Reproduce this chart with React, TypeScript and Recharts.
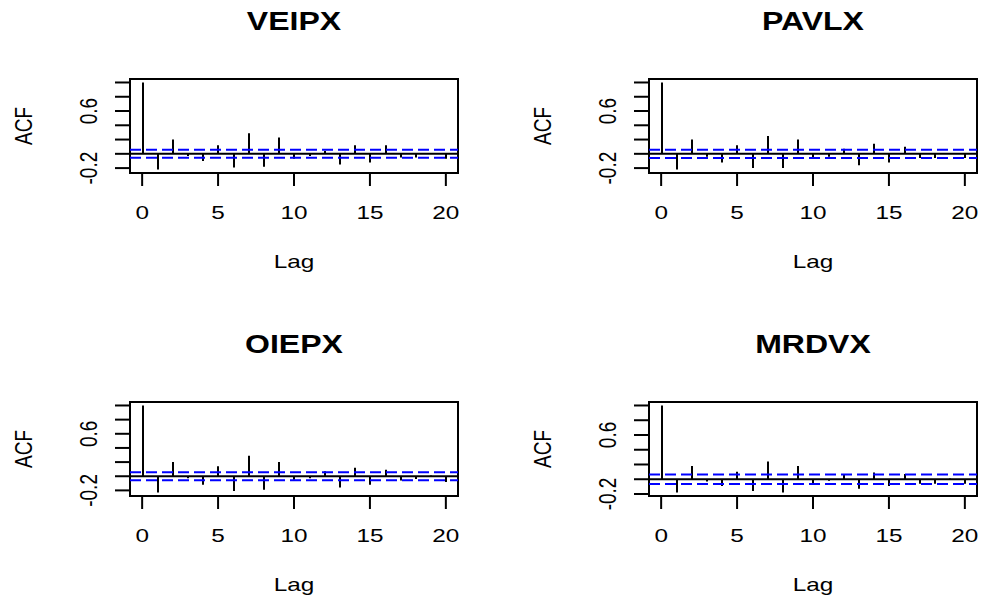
import React from 'react';
import { ComposedChart, Bar, XAxis, YAxis, ReferenceLine, ReferenceArea } from 'recharts';

// lags 0..20 and the ACF values
const lags = [0, 1, 2, 3, 4, 5, 6, 7, 8, 9, 10, 11, 12, 13, 14, 15, 16, 17, 18, 19, 20];
const veipx = [1.0, -0.22, 0.2, -0.03, -0.1, 0.12, -0.19, 0.29, -0.18, 0.23, -0.07, -0.03, 0.04, -0.15, 0.12, -0.12, 0.12, -0.05, -0.05, 0.01, -0.07];
const pavlx = [1.0, -0.22, 0.2, -0.04, -0.12, 0.12, -0.2, 0.25, -0.2, 0.2, -0.07, -0.04, 0.07, -0.16, 0.14, -0.12, 0.1, -0.06, -0.06, 0.01, -0.06];
const oiepx = [1.0, -0.23, 0.2, -0.03, -0.12, 0.14, -0.21, 0.29, -0.19, 0.2, -0.05, -0.03, 0.07, -0.16, 0.12, -0.12, 0.09, -0.06, -0.04, 0.01, -0.08];
const mrdvx = [1.0, -0.18, 0.18, -0.03, -0.09, 0.1, -0.16, 0.24, -0.18, 0.18, -0.05, -0.02, 0.06, -0.13, 0.09, -0.09, 0.07, -0.06, -0.06, 0.01, -0.06];
const titles = ['VEIPX', 'PAVLX', 'OIEPX', 'MRDVX'];
const ciBounds = [0.056, 0.058, 0.056, 0.064];
const xTicks = [0, 5, 10, 15, 20];
const yTicks = [-0.2, 0, 0.2, 0.4, 0.6, 0.8, 1.0];
const yLabels = [-0.2, 0.6];

const FONT = '"Liberation Sans", Arial, sans-serif';
const STRETCH = 1.28; // the picture is stretched horizontally
const BOX_W = 328;
const BOX_H = 94;

const boxes = [
  { left: 130, top: 79 },
  { left: 649, top: 79 },
  { left: 130, top: 402 },
  { left: 649, top: 402 },
];

const Stem = (props: any) => {
  const { x, y, width, height } = props;
  if (x == null || y == null) return null;
  const cx = Math.round(x + width / 2);
  return <line x1={cx} x2={cx} y1={y} y2={y + height} stroke="#000" strokeWidth={2} />;
};

const XTick = (props: any) => {
  const { x, y, payload } = props;
  return (
    <text transform={`translate(${x},${y}) scale(${STRETCH},1)`} x={0} y={0} dy={13.6}
      textAnchor="middle" fontSize={19} fontFamily={FONT} fill="#000">
      {payload.value}
    </text>
  );
};

const YTick = (props: any) => {
  const { x, y, payload } = props;
  const v = Math.round(payload.value * 10) / 10;
  if (!yLabels.includes(v)) return null;
  return (
    <text transform={`translate(${x},${y}) scale(${STRETCH},1) rotate(-90)`} x={0} y={0}
      textAnchor="middle" fontSize={19} fontFamily={FONT} fill="#000">
      {v.toFixed(1)}
    </text>
  );
};

type PanelProps = { title: string; values: number[]; ci: number; left: number; top: number };

const AcfPanel = ({ title, values, ci, left, top }: PanelProps) => {
  const data = lags.map((lag, i) => ({ lag, acf: values[i] }));
  const lo = Math.min(...values, -ci);
  const hi = Math.max(...values, ci);
  const pad = (hi - lo) * 0.04;
  const yDomain = [lo - pad, hi + pad];
  const xDomain = [-0.8, 20.8];
  const cx = left + BOX_W / 2;
  const textBase: React.CSSProperties = {
    position: 'absolute', fontFamily: FONT, color: '#000', lineHeight: 1, whiteSpace: 'nowrap',
  };
  return (
    <>
      <div style={{ position: 'absolute', left: left - 130, top: top - 80 }}>
        <ComposedChart width={BOX_W + 140} height={300} data={data}
          margin={{ top: 80, left: 70, right: 10, bottom: 86 }}>
          <XAxis dataKey="lag" type="number" domain={xDomain} allowDataOverflow ticks={xTicks}
            interval={0} height={40} axisLine={false} tickSize={13} tickMargin={19}
            tickLine={{ stroke: '#000', strokeWidth: 2 }} tick={<XTick />} />
          <YAxis type="number" domain={yDomain} allowDataOverflow ticks={yTicks} interval={0}
            width={60} axisLine={false} tickSize={15} tickMargin={18}
            tickLine={{ stroke: '#000', strokeWidth: 2 }} tick={<YTick />} />
          <ReferenceLine y={ci} stroke="#0000ff" strokeWidth={2} strokeDasharray="11 5" />
          <ReferenceLine y={-ci} stroke="#0000ff" strokeWidth={2} strokeDasharray="11 5" />
          <ReferenceLine y={0} stroke="#000" strokeWidth={2} />
          <Bar dataKey="acf" barSize={2} shape={<Stem />} isAnimationActive={false} />
          <ReferenceArea x1={xDomain[0]} x2={xDomain[1]} y1={yDomain[0]} y2={yDomain[1]}
            fill="none" fillOpacity={0} stroke="#000" strokeWidth={2} strokeOpacity={1} />
        </ComposedChart>
      </div>
      <div style={{ ...textBase, left: cx, top: top - 58, fontSize: 25, fontWeight: 'bold',
        transform: `translate(-50%,-50%) scaleX(${STRETCH})` }}>{title}</div>
      <div style={{ ...textBase, left: cx, top: top + BOX_H + 88, fontSize: 19,
        transform: `translate(-50%,-50%) scaleX(${STRETCH})` }}>Lag</div>
      <div style={{ ...textBase, left: left - 106, top: top + BOX_H / 2, fontSize: 19,
        transform: `translate(-50%,-50%) scaleX(${STRETCH}) rotate(-90deg)` }}>ACF</div>
    </>
  );
};

const series = [veipx, pavlx, oiepx, mrdvx];

export default function App() {
  return (
    <div style={{ position: 'absolute', left: 0, top: 0, width: 983, height: 602, background: '#fff', overflow: 'hidden' }}>
      {series.map((values, i) => (
        <AcfPanel key={titles[i]} title={titles[i]} values={values} ci={ciBounds[i]}
          left={boxes[i].left} top={boxes[i].top} />
      ))}
    </div>
  );
}
